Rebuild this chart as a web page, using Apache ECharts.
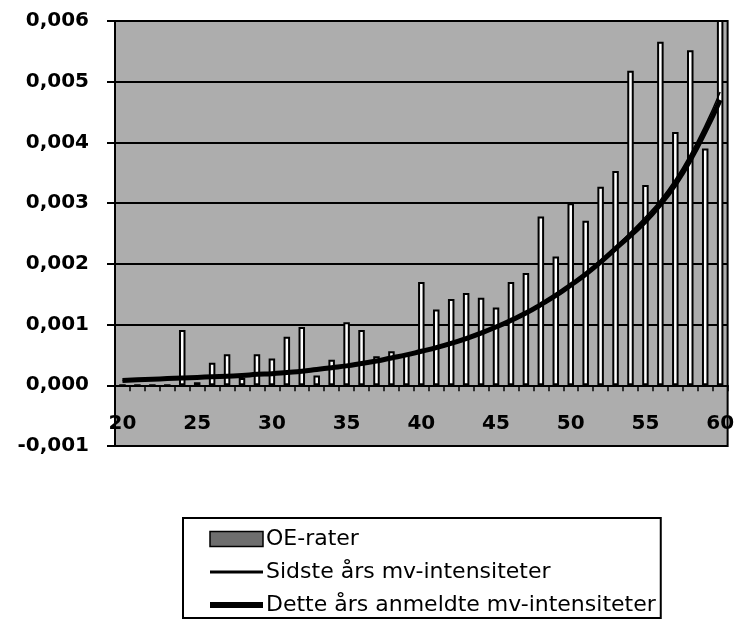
<!DOCTYPE html>
<html><head><meta charset="utf-8">
<script src="https://cdn.jsdelivr.net/npm/echarts@6/dist/echarts.min.js"></script>
<style>html,body{margin:0;padding:0;background:#fff}#c{width:737px;height:623px}</style>
</head><body><div id="c"></div>
<script>
var ages = [];
for (var a = 20; a <= 60; a++) ages.push(String(a));
var oeRater = [0, 0, 0, 0, 0.00091, 0.00005, 0.00037, 0.00051, 0.00012, 0.00051,
  0.00044, 0.00080, 0.00096, 0.00016, 0.00042, 0.00104, 0.00091, 0.00048, 0.00056, 0.00050,
  0.00170, 0.00125, 0.00142, 0.00152, 0.00144, 0.00128, 0.00170, 0.00185, 0.00278, 0.00212,
  0.00300, 0.00271, 0.00327, 0.00353, 0.00518, 0.00330, 0.00566, 0.00417, 0.00552, 0.00390,
  0.00650];
var sidsteAars = [0.00008, 0.00009, 0.00010, 0.00011, 0.00012, 0.00013, 0.00014, 0.00015, 0.00016, 0.00018,
  0.00019, 0.00021, 0.00023, 0.00026, 0.00029, 0.00032, 0.00036, 0.00040, 0.00045, 0.00050,
  0.00056, 0.00062, 0.00069, 0.00077, 0.00086, 0.00096, 0.00107, 0.00119, 0.00133, 0.00149,
  0.00166, 0.00185, 0.00206, 0.00228, 0.00252, 0.00277, 0.00305, 0.00339, 0.00380, 0.00428,
  0.00483];
var detteAars = [0.00008, 0.00009, 0.00010, 0.00011, 0.00012, 0.00013, 0.00014, 0.00015, 0.00016, 0.00018,
  0.00019, 0.00021, 0.00023, 0.00026, 0.00029, 0.00032, 0.00036, 0.00040, 0.00045, 0.00050,
  0.00056, 0.00062, 0.00069, 0.00077, 0.00086, 0.00096, 0.00107, 0.00119, 0.00133, 0.00148,
  0.00165, 0.00183, 0.00203, 0.00225, 0.00247, 0.00270, 0.00298, 0.00331, 0.00371, 0.00418,
  0.00470];
var yTicks = { min: -0.001, max: 0.006, interval: 0.001 };

var chart = echarts.init(document.getElementById('c'));
chart.setOption({
  animation: false,
  backgroundColor: '#ffffff',
  grid: { left: 115, right: 4, top: 21, bottom: 177, show: true, backgroundColor: '#adadad', borderColor: '#000', borderWidth: 2 },
  legend: {
    orient: 'vertical', left: 183, top: 518,
    data: [
      { name: 'OE-rater', icon: 'rect', itemStyle: { color: '#6e6e6e', borderColor: '#000', borderWidth: 1.5 } },
      { name: 'Sidste års mv-intensiteter', itemStyle: { opacity: 0 }, lineStyle: { color: '#000', width: 3 } },
      { name: 'Dette års anmeldte mv-intensiteter', itemStyle: { opacity: 0 }, lineStyle: { color: '#000', width: 6 } }
    ],
    itemWidth: 53, itemHeight: 15, itemGap: 11,
    borderColor: '#000', borderWidth: 2, padding: [10, 5, 2, 24],
    textStyle: { fontFamily: 'DejaVu Sans', fontSize: 22, color: '#000', padding: [0, 0, 0, -2] }
  },
  xAxis: {
    type: 'category', data: ages, boundaryGap: true,
    axisLine: { onZero: true, lineStyle: { color: '#000', width: 2 } },
    axisTick: { show: true, interval: 0, length: 6, lineStyle: { color: '#000', width: 1.5 } },
    axisLabel: { interval: 4, margin: -32, fontFamily: 'DejaVu Sans', fontWeight: 'bold', fontSize: 20, color: '#000' },
    splitLine: { show: false }
  },
  yAxis: {
    type: 'value', min: yTicks.min, max: yTicks.max, interval: yTicks.interval,
    axisLine: { show: true, lineStyle: { color: '#000', width: 2 } },
    axisTick: { show: true, length: 8, lineStyle: { color: '#000', width: 2 } },
    axisLabel: {
      margin: 26, fontFamily: 'DejaVu Sans', fontWeight: 'bold', fontSize: 20, color: '#000',
      formatter: function (v) { return (Math.round(v * 1000) / 1000).toFixed(3).replace('.', ','); }
    },
    splitLine: { show: true, lineStyle: { color: '#000', width: 2 } }
  },
  series: [
    { name: 'OE-rater', type: 'bar', data: oeRater, barWidth: 6.5, clip: true,
      itemStyle: { color: '#ffffff', borderColor: '#000', borderWidth: 2 } },
    { name: 'Sidste års mv-intensiteter', type: 'line', data: sidsteAars, smooth: true, symbol: 'none',
      lineStyle: { color: '#000', width: 1.5 }, itemStyle: { color: '#000' } },
    { name: 'Dette års anmeldte mv-intensiteter', type: 'line', data: detteAars, smooth: true, symbol: 'none',
      lineStyle: { color: '#000', width: 5 }, itemStyle: { color: '#000' } }
  ]
});
</script></body></html>
